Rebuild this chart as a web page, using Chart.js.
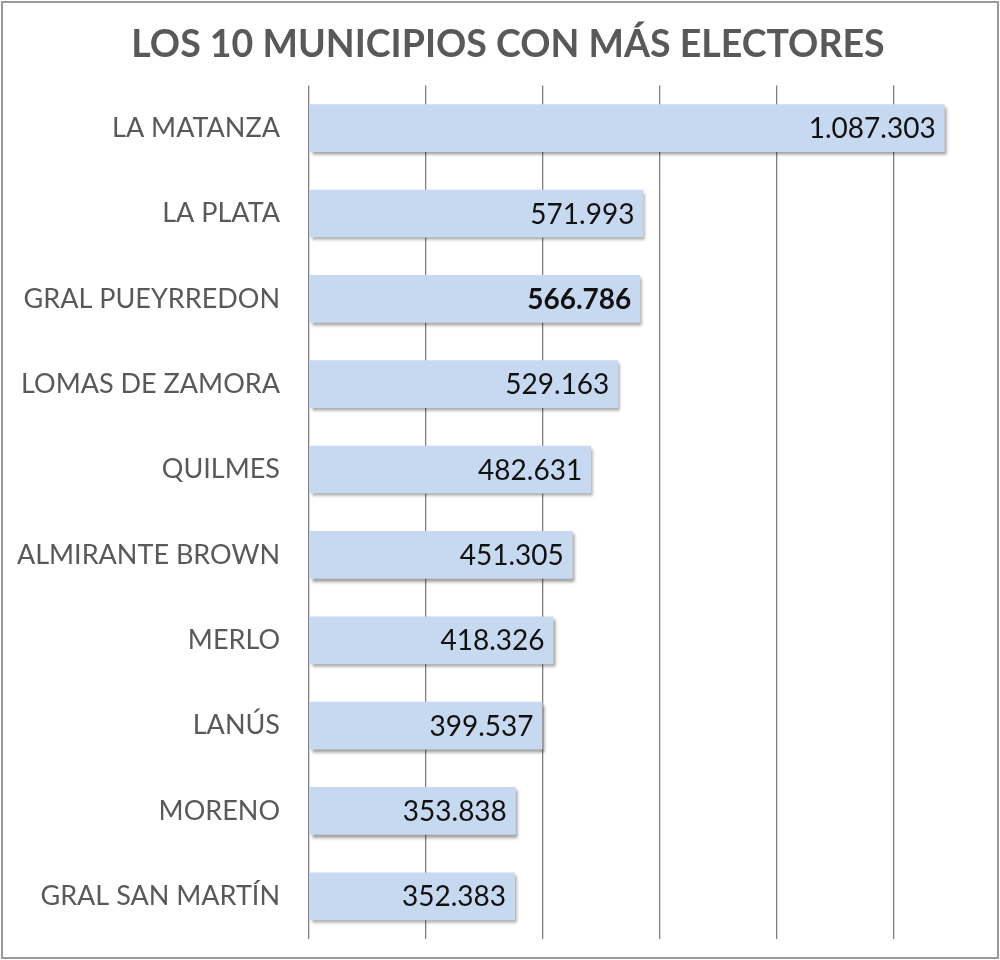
<!DOCTYPE html>
<html>
<head>
<meta charset="utf-8">
<script src="https://cdn.jsdelivr.net/npm/chart.js@4"></script>
<style>
html,body{margin:0;padding:0;background:#fff;}
#wrap{width:1000px;height:960px;position:relative;}
</style>
</head>
<body>
<div id="wrap"><canvas id="c" width="1000" height="960"></canvas></div>
<script>
const titleText = 'LOS 10 MUNICIPIOS CON MÁS ELECTORES';
const categories = ['LA MATANZA','LA PLATA','GRAL PUEYRREDON','LOMAS DE ZAMORA','QUILMES','ALMIRANTE BROWN','MERLO','LANÚS','MORENO','GRAL SAN MARTÍN'];
const electores = [1087303, 571993, 566786, 529163, 482631, 451305, 418326, 399537, 353838, 352383];
const gridTicks = [0, 200000, 400000, 600000, 800000, 1000000];
const boldIndex = [2];

const fmt = v => v.toString().replace(/\B(?=(\d{3})+(?!\d))/g, '.');

const framePlugin = {
  id: 'frame',
  beforeDraw(chart) {
    const ctx = chart.ctx;
    ctx.save();
    ctx.fillStyle = '#fff';
    ctx.fillRect(0, 0, chart.width, chart.height);
    ctx.strokeStyle = '#9a9a9a';
    ctx.lineWidth = 2;
    ctx.strokeRect(2, 2, chart.width - 4, chart.height - 4);
    ctx.restore();
  }
};

const shadowPlugin = {
  id: 'barShadow',
  beforeDatasetsDraw(chart) {
    const ctx = chart.ctx;
    ctx.save();
    ctx.shadowColor = 'rgba(0,0,0,0.38)';
    ctx.shadowOffsetX = 2;
    ctx.shadowOffsetY = 3;
    ctx.shadowBlur = 3;
  },
  afterDatasetsDraw(chart) {
    chart.ctx.restore();
  }
};

const valueLabels = {
  id: 'valueLabels',
  afterDatasetsDraw(chart) {
    const ctx = chart.ctx;
    const meta = chart.getDatasetMeta(0);
    ctx.save();
    ctx.textAlign = 'right';
    ctx.textBaseline = 'middle';
    ctx.fillStyle = '#111';
    meta.data.forEach((bar, i) => {
      const bold = boldIndex.includes(i);
      ctx.font = (bold ? 'bold ' : '') + '28px Lato, sans-serif';
      ctx.fillText(fmt(electores[i]), bar.x - 9, bar.y + 1);
    });
    ctx.restore();
  }
};

new Chart(document.getElementById('c'), {
  type: 'bar',
  data: {
    labels: categories,
    datasets: [{
      data: electores,
      backgroundColor: '#c6d9f1',
      borderWidth: 0,
      barPercentage: 0.56,
      categoryPercentage: 1.0
    }]
  },
  options: {
    indexAxis: 'y',
    responsive: false,
    animation: false,
    devicePixelRatio: 1,
    layout: { padding: { left: 16, right: 0, top: 0, bottom: 21 } },
    plugins: {
      legend: { display: false },
      tooltip: { enabled: false },
      title: {
        display: true,
        text: titleText,
        color: '#595959',
        font: { family: 'Lato, sans-serif', size: 37.5, weight: 'bold' },
        padding: { top: 22, bottom: 18.5 }
      }
    },
    scales: {
      x: {
        min: 0,
        max: 1182000,
        afterBuildTicks(scale) { scale.ticks = gridTicks.map(v => ({ value: v })); },
        afterFit(scale) { scale.height = 0; },
        ticks: { display: false },
        border: { display: false },
        grid: { drawTicks: false, lineWidth: 1.3, color: '#7f7f7f' }
      },
      y: {
        border: { display: false },
        grid: { display: false, drawTicks: false },
        ticks: {
          color: '#595959',
          padding: 29,
          font: { family: 'Lato, sans-serif', size: 27 }
        },
        afterFit(scale) {
          scale.width = 293;
          scale.paddingTop = 0;
          scale.paddingBottom = 0;
        }
      }
    }
  },
  plugins: [framePlugin, shadowPlugin, valueLabels]
});
</script>
</body>
</html>
